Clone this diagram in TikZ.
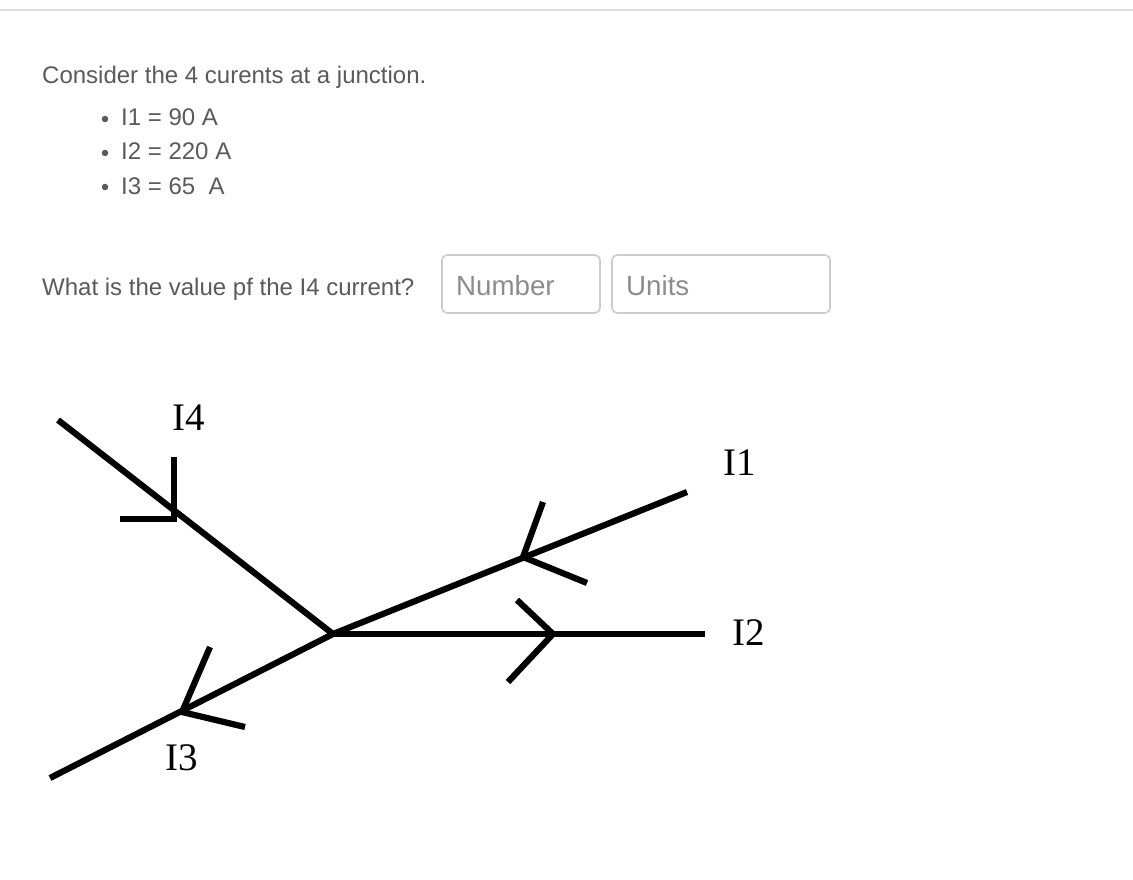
\documentclass[tikz,border=0pt]{standalone}
\usepackage{fontspec}
\setmainfont{Liberation Sans}
\newfontfamily\serifl{Liberation Serif}
\definecolor{txtgray}{HTML}{5A5A5A}
\definecolor{phgray}{HTML}{8C8C8C}
\definecolor{boxgray}{HTML}{CCCCCC}
\definecolor{rulegray}{HTML}{DDDDDD}
\tikzset{
  bodytext/.style={anchor=base west, inner sep=0pt, text=txtgray, font=\fontsize{24}{28}\selectfont},
  phtext/.style={anchor=base west, inner sep=0pt, text=phgray, font=\fontsize{27.7}{32}\selectfont},
  inputbox/.style={draw=boxgray, line width=1.6pt, rounded corners=5pt},
  bulletdot/.style={circle, fill=txtgray, inner sep=0pt, minimum size=6.5pt},
  wire/.style={line width=6.2pt, black},
  arrowlegs/.style={line width=6.2pt, black, line join=miter},
  curlabel/.style={anchor=base west, inner sep=0pt, text=black, font=\serifl\fontsize{39}{44}\selectfont},
}
\begin{document}
\begin{tikzpicture}[x=1pt,y=-1pt]
\fill[white] (0,0) rectangle (1133,880);
\useasboundingbox (0,0) rectangle (1133,880);
\draw[rulegray, line width=2pt] (0,10) -- (1133,10);

% question text
\node[bodytext] (q1) at (42,84) {Consider the 4 curents at a junction.};
\node[bulletdot] (b1) at (105,119) {};
\node[bulletdot] (b2) at (105,153) {};
\node[bulletdot] (b3) at (105,187) {};
\node[bodytext] (l1) at (121,126) {I1 = 90 A};
\node[bodytext] (l2) at (121,160) {I2 = 220 A};
\node[bodytext] (l3) at (121,194) {I3 = 65 \ A};
\node[bodytext] (q2) at (42,295) {What is the value pf the I4 current?};

% input boxes
\draw[inputbox] (442,255) rectangle (600,313);
\draw[inputbox] (612,255) rectangle (830,313);
\node[phtext] (num) at (456,295) {Number};
\node[phtext] (units) at (626,295) {Units};

% junction diagram
\coordinate (J) at (333,634);
\coordinate (e4) at (58,420);
\coordinate (e3) at (50,778);
\coordinate (e1) at (687,492);
\coordinate (e2) at (705,634);
\draw[wire] (e4) -- (J);
\draw[wire] (J) -- (e3);
\draw[wire] (J) -- (e1);
\draw[wire] (J) -- (e2);

% arrowheads
\coordinate (t4) at (174,519);
\coordinate (t4a) at (174,457);
\coordinate (t4b) at (120,519);
\draw[arrowlegs] (t4a) -- (t4) -- (t4b);

\coordinate (t3) at (182,712);
\coordinate (t3a) at (210,647);
\coordinate (t3b) at (245,727);
\draw[arrowlegs] (t3a) -- (t3) -- (t3b);

\coordinate (t1) at (523,557);
\coordinate (t1a) at (543,502);
\coordinate (t1b) at (587,583);
\draw[arrowlegs] (t1a) -- (t1) -- (t1b);

\coordinate (t2) at (553,634);
\coordinate (t2a) at (517,600);
\coordinate (t2b) at (508,682);
\draw[arrowlegs] (t2a) -- (t2) -- (t2b);

% labels
\node[curlabel] (L4) at (172,430) {I4};
\node[curlabel] (L1) at (723,475) {I1};
\node[curlabel] (L2) at (732,645) {I2};
\node[curlabel] (L3) at (165,770) {I3};
\end{tikzpicture}
\end{document}
